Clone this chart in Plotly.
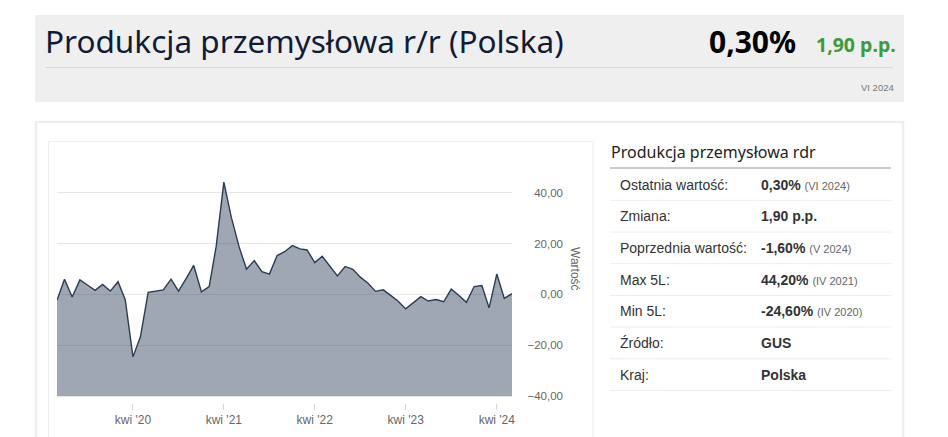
import plotly.graph_objects as go

W, H = 948, 437

# ---- data ----
months = [
    "2019-06-01", "2019-07-01", "2019-08-01", "2019-09-01", "2019-10-01", "2019-11-01", "2019-12-01",
    "2020-01-01", "2020-02-01", "2020-03-01", "2020-04-01", "2020-05-01", "2020-06-01",
    "2020-07-01", "2020-08-01", "2020-09-01", "2020-10-01", "2020-11-01", "2020-12-01",
    "2021-01-01", "2021-02-01", "2021-03-01", "2021-04-01", "2021-05-01", "2021-06-01",
    "2021-07-01", "2021-08-01", "2021-09-01", "2021-10-01", "2021-11-01", "2021-12-01",
    "2022-01-01", "2022-02-01", "2022-03-01", "2022-04-01", "2022-05-01", "2022-06-01",
    "2022-07-01", "2022-08-01", "2022-09-01", "2022-10-01", "2022-11-01", "2022-12-01",
    "2023-01-01", "2023-02-01", "2023-03-01", "2023-04-01", "2023-05-01", "2023-06-01",
    "2023-07-01", "2023-08-01", "2023-09-01", "2023-10-01", "2023-11-01", "2023-12-01",
    "2024-01-01", "2024-02-01", "2024-03-01", "2024-04-01", "2024-05-01", "2024-06-01",
]
values = [
    -2.3, 6.0, -1.0, 5.7, 3.7, 1.6, 3.9,
    1.3, 5.0, -2.1, -24.6, -16.7, 0.8,
    1.2, 1.8, 6.0, 1.3, 6.3, 11.4,
    1.0, 3.1, 18.8, 44.2, 30.3, 18.8,
    9.9, 13.3, 9.0, 8.0, 15.3, 16.8,
    19.2, 17.9, 17.5, 12.5, 15.0, 11.0,
    7.3, 11.0, 9.9, 6.8, 4.4, 1.2,
    1.8, -0.5, -2.6, -5.7, -3.4, -0.9,
    -2.6, -2.0, -2.9, 2.1, -0.4, -3.1,
    3.1, 3.5, -5.3, 8.0, -1.6, 0.3,
]
x_tick_vals = ["2020-04-01", "2021-04-01", "2022-04-01", "2023-04-01", "2024-04-01"]
x_tick_text = ["kwi '20", "kwi '21", "kwi '22", "kwi '23", "kwi '24"]
y_tick_vals = [-40, -20, 0, 20, 40]
y_tick_text = ["−40,00", "−20,00", "0,00", "20,00", "40,00"]
y_floor = -40
y_min, y_max = -44, 60

title_text = "Produkcja przemysłowa r/r (Polska)"
last_value = "0,30%"
change_value = "1,90 p.p."
period = "VI 2024"

table_title = "Produkcja przemysłowa rdr"
table_labels = ["Ostatnia wartość:", "Zmiana:", "Poprzednia wartość:", "Max 5L:", "Min 5L:", "Źródło:", "Kraj:"]
table_values = ["0,30%", "1,90 p.p.", "-1,60%", "44,20%", "-24,60%", "GUS", "Polska"]
table_notes = ["(VI 2024)", "", "(V 2024)", "(IV 2021)", "(IV 2020)", "", ""]


def px(x):
    return x / W


def py(y):
    return 1 - y / H


fig = go.Figure()

# baseline at the bottom of the plot so the area fills down to it
fig.add_trace(go.Scatter(
    x=[months[0], months[-1]], y=[y_floor, y_floor], mode="lines",
    line=dict(width=0), hoverinfo="skip", showlegend=False,
))
fig.add_trace(go.Scatter(
    x=months, y=values, mode="lines", fill="tonexty",
    fillcolor="rgba(43,59,85,0.45)",
    line=dict(color="#2b3b55", width=1.4),
    showlegend=False, name="Wartość",
))

PLOT_L, PLOT_R, PLOT_T = 57, 512, 142
PX_PER_UNIT = 2.54
PLOT_B = PLOT_T + (y_max - y_min) * PX_PER_UNIT

fig.update_layout(
    width=W, height=H,
    margin=dict(l=0, r=0, t=0, b=0),
    paper_bgcolor="white", plot_bgcolor="rgba(0,0,0,0)",
    showlegend=False,
    xaxis=dict(
        type="date", domain=[px(PLOT_L), px(PLOT_R)],
        range=[months[0], months[-1]], automargin=False,
        anchor="free", position=py(403),
        tickvals=x_tick_vals, ticktext=x_tick_text,
        ticks="outside", ticklen=6, tickwidth=1, tickcolor="#ccd6eb",
        showgrid=False, showline=False, zeroline=False,
        tickfont=dict(family="Liberation Sans, Arial, sans-serif", size=12, color="#666666"),
    ),
    yaxis=dict(
        domain=[py(PLOT_B), py(PLOT_T)],
        range=[y_min, y_max], automargin=False,
        side="right", anchor="free", position=px(566),
        ticklabelposition="inside",
        tickvals=y_tick_vals, ticktext=y_tick_text,
        showgrid=True, gridcolor="#e6e6e6", gridwidth=1,
        showline=False, zeroline=False, ticks="",
        tickfont=dict(family="Liberation Sans, Arial, sans-serif", size=11.5, color="#666666"),
    ),
)

shapes = []
# header box
shapes.append(dict(type="rect", xref="paper", yref="paper", x0=px(35), x1=px(904), y0=py(102), y1=py(15),
                   fillcolor="#efefef", line=dict(width=0), layer="below"))
shapes.append(dict(type="line", xref="paper", yref="paper", x0=px(45), x1=px(893), y0=py(67.5), y1=py(67.5),
                   line=dict(color="#d9d9d9", width=1), layer="below"))
# main box
shapes.append(dict(type="rect", xref="paper", yref="paper", x0=px(36), x1=px(903), y0=py(460), y1=py(122),
                   fillcolor="white", line=dict(color="#eeeeee", width=2.5), layer="below"))
# chart panel
shapes.append(dict(type="rect", xref="paper", yref="paper", x0=px(48.5), x1=px(593), y0=py(470), y1=py(141.5),
                   fillcolor="white", line=dict(color="#eeeeee", width=1), layer="below"))
# table header underline
shapes.append(dict(type="line", xref="paper", yref="paper", x0=px(610), x1=px(891), y0=py(168), y1=py(168),
                   line=dict(color="#bbbbbb", width=1.5), layer="below"))
row_h = 31.7
for k in range(len(table_labels)):
    ysep = 200.3 + row_h * k
    shapes.append(dict(type="line", xref="paper", yref="paper", x0=px(610), x1=px(891), y0=py(ysep), y1=py(ysep),
                       line=dict(color="#eeeeee", width=1), layer="below"))

annotations = []
TITLE_FONT = "Noto Sans, Open Sans, sans-serif"
annotations.append(dict(text=title_text, xref="paper", yref="paper", x=px(43), y=py(40), xanchor="left",
                        yanchor="middle", showarrow=False,
                        font=dict(family=TITLE_FONT, size=31.5, color="#0f1c38")))
annotations.append(dict(text="<b>" + last_value + "</b>", xref="paper", yref="paper", x=px(798), y=py(41),
                        xanchor="right", yanchor="middle", showarrow=False,
                        font=dict(family=TITLE_FONT, size=30, color="#000000")))
annotations.append(dict(text="<b>" + change_value + "</b>", xref="paper", yref="paper", x=px(898), y=py(44),
                        xanchor="right", yanchor="middle", showarrow=False,
                        font=dict(family=TITLE_FONT, size=19.5, color="#3c9b3c")))
annotations.append(dict(text=period, xref="paper", yref="paper", x=px(896), y=py(87),
                        xanchor="right", yanchor="middle", showarrow=False,
                        font=dict(family="Liberation Sans, Arial, sans-serif", size=9.5, color="#777777")))
# y axis title
annotations.append(dict(text="Wartość", xref="paper", yref="paper", x=px(575), y=py(269),
                        xanchor="center", yanchor="middle", showarrow=False, textangle=90,
                        font=dict(family="Liberation Sans, Arial, sans-serif", size=12, color="#666666")))
# table
annotations.append(dict(text=table_title, xref="paper", yref="paper", x=px(609), y=py(152),
                        xanchor="left", yanchor="middle", showarrow=False,
                        font=dict(family=TITLE_FONT, size=16, color="#222222")))
for k, (lab, val, note) in enumerate(zip(table_labels, table_values, table_notes)):
    yc = 184.5 + row_h * k
    annotations.append(dict(text=lab, xref="paper", yref="paper", x=px(618), y=py(yc),
                            xanchor="left", yanchor="middle", showarrow=False,
                            font=dict(family="Liberation Sans, Arial, sans-serif", size=14, color="#333333")))
    txt = "<b>" + val + "</b>"
    if note:
        txt += " <span style='font-size:11px;color:#666666'>" + note + "</span>"
    annotations.append(dict(text=txt, xref="paper", yref="paper", x=px(759), y=py(yc),
                            xanchor="left", yanchor="middle", showarrow=False,
                            font=dict(family="Liberation Sans, Arial, sans-serif", size=14, color="#333333")))

fig.update_layout(shapes=shapes, annotations=annotations)
fig.write_html("out.html", config={"displayModeBar": False},
               post_script="document.body.style.margin='0';")
